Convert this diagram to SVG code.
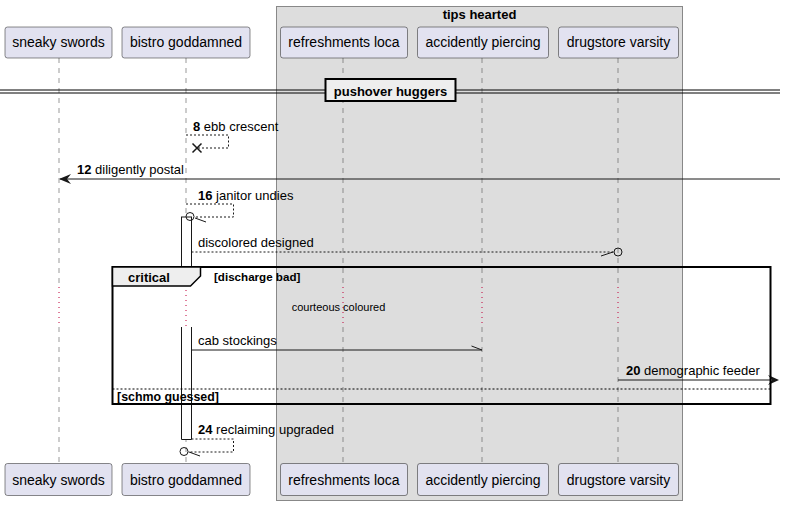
<svg xmlns="http://www.w3.org/2000/svg" width="786" height="505" viewBox="0 0 786 505">
<style>
.part{fill:#E2E2F0;stroke:#181818;stroke-width:0.5}
.ptxt{font-family:"Liberation Sans",Arial,sans-serif;font-size:14px;fill:#000;text-anchor:middle}
.life{stroke:#555;stroke-width:0.6;stroke-dasharray:5,5;fill:none}
.delay{stroke:#C0003A;stroke-width:1;stroke-dasharray:1,4;fill:none}
.msg{font-family:"Liberation Sans",Arial,sans-serif;font-size:13px;fill:#000}
.num{font-weight:bold}
.solid{stroke:#181818;stroke-width:1;fill:none}
.dash{stroke:#181818;stroke-width:1;stroke-dasharray:2,2;fill:none}
.bold11{font-family:"Liberation Sans",Arial,sans-serif;font-size:11.6px;font-weight:bold;fill:#000}
.bold13{font-family:"Liberation Sans",Arial,sans-serif;font-size:13px;font-weight:bold;fill:#000}
</style>
<rect width="786" height="505" fill="#fff"/>
<g id="box-tips-hearted">
<rect x="276.5" y="6.5" width="406" height="494" fill="#DDDDDD" stroke="#888" stroke-width="1"/>
<text x="479.5" y="19" class="bold13" text-anchor="middle">tips hearted</text>
</g>
<g id="lifelines">
<path class="life" d="M59,58V287M59,327V463M186,58V287M186,327V463M343,58V287M343,327V463M482,58V287M482,327V463M618,58V287M618,327V463"/>
<path class="delay" d="M59,287V327M186,290V327M343,287V327M482,287V327M618,287V327"/>
</g>
<g id="p-sneaky-swords">
<rect class="part" x="5" y="27" width="107" height="31" rx="2.5"/>
<text class="ptxt" x="58.5" y="47">sneaky swords</text>
<rect class="part" x="5" y="463.5" width="107" height="32" rx="2.5"/>
<text class="ptxt" x="58.5" y="485">sneaky swords</text>
</g>
<g id="p-bistro-goddamned">
<rect class="part" x="122" y="27" width="128" height="31" rx="2.5"/>
<text class="ptxt" x="186" y="47">bistro goddamned</text>
<rect class="part" x="122" y="463.5" width="128" height="32" rx="2.5"/>
<text class="ptxt" x="186" y="485">bistro goddamned</text>
</g>
<g id="p-refreshments-loca">
<rect class="part" x="280.5" y="27" width="127" height="31" rx="2.5"/>
<text class="ptxt" x="344" y="47">refreshments loca</text>
<rect class="part" x="280.5" y="463.5" width="127" height="32" rx="2.5"/>
<text class="ptxt" x="344" y="485">refreshments loca</text>
</g>
<g id="p-accidently-piercing">
<rect class="part" x="417.5" y="27" width="131" height="31" rx="2.5"/>
<text class="ptxt" x="483" y="47">accidently piercing</text>
<rect class="part" x="417.5" y="463.5" width="131" height="32" rx="2.5"/>
<text class="ptxt" x="483" y="485">accidently piercing</text>
</g>
<g id="p-drugstore-varsity">
<rect class="part" x="558.5" y="27" width="120" height="31" rx="2.5"/>
<text class="ptxt" x="618.5" y="47">drugstore varsity</text>
<rect class="part" x="558.5" y="463.5" width="120" height="32" rx="2.5"/>
<text class="ptxt" x="618.5" y="485">drugstore varsity</text>
</g>
<g id="divider-pushover-huggers">
<path d="M0,90H780M0,93H780" stroke="#000" stroke-width="1" fill="none"/>
<rect x="325.5" y="79" width="130" height="22" fill="#EEEEEE" stroke="#000" stroke-width="2"/>
<text x="390.5" y="96" class="bold13" text-anchor="middle">pushover huggers</text>
</g>
<g id="activation">
<rect x="181.5" y="217" width="10" height="50" fill="#fff" stroke="#181818" stroke-width="1"/>
<rect x="181.5" y="327" width="10" height="112.5" fill="#fff" stroke="none"/>
<path d="M181.5,327V439.5H191.5V327" class="solid"/>
</g>
<g id="connectors">
<path class="dash" d="M186,135H228.5V148H198"/>
<path d="M192.5,143.5L201.5,152.5M192.5,152.5L201.5,143.5" stroke="#181818" stroke-width="1.5"/>
<text class="msg" x="193" y="131"><tspan class="num">8</tspan> ebb crescent</text>
<path class="solid" d="M780,179H60"/>
<polygon points="59,179 71,174 67,179 71,184" fill="#181818"/>
<text class="msg" x="77" y="174"><tspan class="num">12</tspan> diligently postal</text>
<path class="dash" d="M186,204H233.5V217H194"/>
<circle cx="190" cy="216.5" r="4" fill="none" stroke="#181818" stroke-width="1"/>
<path class="solid" d="M195,218L206,222"/>
<text class="msg" x="198" y="200"><tspan class="num">16</tspan> janitor undies</text>
<path class="dash" d="M191.5,252H614"/>
<circle cx="618" cy="252" r="4" fill="none" stroke="#181818" stroke-width="1"/>
<path class="solid" d="M601,256L613,252"/>
<text class="msg" x="198" y="247">discolored designed</text>
<path class="solid" d="M191.5,350H482"/>
<path class="solid" d="M471.5,346L482,350"/>
<text class="msg" x="198" y="344.5">cab stockings</text>
<path class="solid" d="M618,380H777"/>
<polygon points="779,380 768,375 772,380 768,385" fill="#181818"/>
<text class="msg" x="626" y="375"><tspan class="num">20</tspan> demographic feeder</text>
<path class="dash" d="M191.5,439H233.5V452H188"/>
<circle cx="184" cy="451.5" r="4" fill="none" stroke="#181818" stroke-width="1"/>
<path class="solid" d="M189,452L200,456"/>
<text class="msg" x="198" y="434"><tspan class="num">24</tspan> reclaiming upgraded</text>
</g>
<g id="delay-courteous-coloured">
<text x="338.5" y="311" font-family="Liberation Sans,Arial,sans-serif" font-size="11" fill="#000" text-anchor="middle">courteous coloured</text>
</g>
<g id="group-critical">
<rect x="112.5" y="267" width="658" height="137" fill="none" stroke="#000" stroke-width="2"/>
<path d="M112.5,267H200.5V276L190.5,286H112.5Z" fill="#EEEEEE" stroke="#000" stroke-width="1.5"/>
<text x="128" y="282" class="bold13">critical</text>
<text x="214" y="280.5" class="bold11">[discharge bad]</text>
<path d="M112.5,389H770.5" stroke="#000" stroke-width="1" stroke-dasharray="2,2"/>
<text x="117" y="400.5" class="bold11" style="font-size:12.4px">[schmo guessed]</text>
</g>
</svg>
